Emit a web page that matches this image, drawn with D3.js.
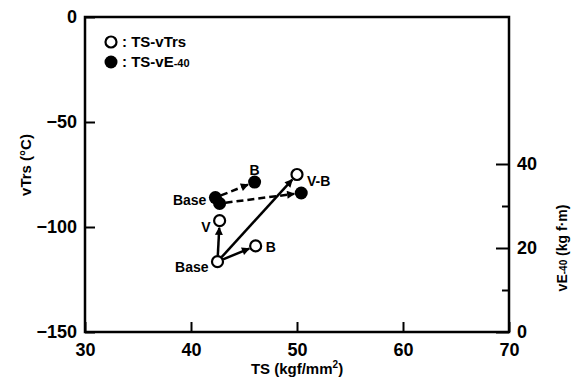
<!DOCTYPE html>
<html><head><meta charset="utf-8">
<script src="https://cdn.jsdelivr.net/npm/d3@7"></script>
<style>
body{margin:0;background:#fff;}
text{font-family:"Liberation Sans",Arial,sans-serif;font-weight:bold;fill:#000;}
</style></head>
<body><svg id="c" width="574" height="385"></svg>
<script>
// ---- data ----
const xTicks = [30, 40, 50, 60, 70];
const yLeftTicks = [0, -50, -100, -150];
const yRightTicks = [0, 20, 40];
const yRightMinor = [10, 30];
// open circles: TS vs vTrs
const trsLabels = ["Base", "V", "B", "V-B"];
const trsTS = [42.5, 42.7, 46.1, 50.0];
const trsVal = [-116.5, -97, -109, -75];
// filled circles: TS vs vE-40
const veLabels = ["Base", "V", "B", "V-B"];
const veTS = [42.3, 42.7, 46.0, 50.4];
const veVal = [32.0, 30.6, 35.7, 33.1];
// arrows (index pairs)
const trsArrows = [[0, 1], [0, 2], [0, 3]];
const veArrows = [[0, 2], [1, 3]];

const svg = d3.select("#c");
const L = 85, R = 509, T = 17, B = 332;
const x = d3.scaleLinear().domain([30, 70]).range([L, R]);
const yL = d3.scaleLinear().domain([-150, 0]).range([B, T]);
const yR = d3.scaleLinear().domain([0, 75]).range([B, T]);

// frame
svg.append("rect").attr("x", L).attr("y", T).attr("width", R - L).attr("height", B - T)
  .attr("fill", "none").attr("stroke", "#000").attr("stroke-width", 2.5);

// bottom axis (ticks inward)
const xa = svg.append("g").attr("transform", `translate(0,${B})`)
  .call(d3.axisBottom(x).tickValues(xTicks).tickSize(-10).tickPadding(11).tickFormat(d3.format("d")));
// left axis
const ya = svg.append("g").attr("transform", `translate(${L},0)`)
  .call(d3.axisLeft(yL).tickValues(yLeftTicks).tickSize(-10).tickPadding(8)
    .tickFormat(d => d < 0 ? "\u2212" + (-d) : d));
// right axis
const ra = svg.append("g").attr("transform", `translate(${R},0)`)
  .call(d3.axisRight(yR).tickValues(yRightTicks).tickSize(-13).tickPadding(22));
const rm = svg.append("g").attr("transform", `translate(${R},0)`)
  .call(d3.axisRight(yR).tickValues(yRightMinor).tickSize(-7).tickFormat(""));
[xa, ya, ra, rm].forEach(g => {
  g.select(".domain").remove();
  g.selectAll(".tick line").attr("stroke", "#000").attr("stroke-width", 2);
  g.selectAll(".tick text").attr("font-size", 18).attr("font-family", "Liberation Sans, Arial, sans-serif")
    .attr("font-weight", "bold").attr("fill", "#000");
});
ra.selectAll(".tick text").attr("x", 8).attr("text-anchor", "start");
ya.selectAll(".tick text").attr("x", -8);

// axis titles
const xt = svg.append("text").attr("x", (L + R) / 2).attr("y", 374).attr("text-anchor", "middle")
  .attr("font-size", 15);
xt.append("tspan").text("TS (kgf/mm");
xt.append("tspan").attr("font-size", 10).attr("dy", -6).text("2");
xt.append("tspan").attr("dy", 6).text(")");
svg.append("text").attr("transform", "translate(31,165) rotate(-90)").attr("text-anchor", "middle")
  .attr("font-size", 15).text("vTrs (\u00B0C)");
const rt = svg.append("text").attr("transform", "translate(567,248) rotate(-90)").attr("text-anchor", "middle")
  .attr("font-size", 14);
rt.append("tspan").text("vE");
rt.append("tspan").attr("font-size", 10).text("-40");
rt.append("tspan").text(" (kg f\u00B7m)");

// arrow marker
const defs = svg.append("defs");
defs.append("marker").attr("id", "ah").attr("viewBox", "0 0 10 10").attr("refX", 9).attr("refY", 5)
  .attr("markerWidth", 9).attr("markerHeight", 8).attr("markerUnits", "userSpaceOnUse")
  .attr("orient", "auto").append("path").attr("d", "M0,0 L10,5 L0,10 Z").attr("fill", "#000");

function arrow(x1, y1, x2, y2, dashed) {
  const dx = x2 - x1, dy = y2 - y1, len = Math.hypot(dx, dy);
  const s = 6 / len, e = 7 / len;
  svg.append("line")
    .attr("x1", x1 + dx * s).attr("y1", y1 + dy * s)
    .attr("x2", x2 - dx * e).attr("y2", y2 - dy * e)
    .attr("stroke", "#000").attr("stroke-width", 2.5)
    .attr("stroke-dasharray", dashed ? "7,4" : null)
    .attr("marker-end", "url(#ah)");
}
trsArrows.forEach(([a, b]) => arrow(x(trsTS[a]), yL(trsVal[a]), x(trsTS[b]), yL(trsVal[b]), false));
veArrows.forEach(([a, b]) => arrow(x(veTS[a]), yR(veVal[a]), x(veTS[b]), yR(veVal[b]), true));

// points
svg.selectAll(".o").data(trsTS).join("circle").attr("cx", d => x(d)).attr("cy", (d, i) => yL(trsVal[i]))
  .attr("r", 5.5).attr("fill", "#fff").attr("stroke", "#000").attr("stroke-width", 2.2);
svg.selectAll(".f").data(veTS).join("circle").attr("cx", d => x(d)).attr("cy", (d, i) => yR(veVal[i]))
  .attr("r", 6.5).attr("fill", "#000");

// point labels
const trsOff = [[-9, 5, "end"], [-9, 6, "end"], [10, 1, "start"], [10, 7, "start"]];
const veOff = [[-9, 2, "end"], null, [0, -12, "middle"], null];
trsLabels.forEach((t, i) => {
  const o = trsOff[i];
  svg.append("text").attr("x", x(trsTS[i]) + o[0]).attr("y", yL(trsVal[i]) + o[1]).attr("dy", "0.35em")
    .attr("text-anchor", o[2]).attr("font-size", 14).text(t);
});
veLabels.forEach((t, i) => {
  const o = veOff[i];
  if (!o) return;
  svg.append("text").attr("x", x(veTS[i]) + o[0]).attr("y", yR(veVal[i]) + o[1]).attr("dy", "0.35em")
    .attr("text-anchor", o[2]).attr("font-size", 14).text(t);
});

// legend
svg.append("circle").attr("cx", 111).attr("cy", 42).attr("r", 5.5).attr("fill", "#fff")
  .attr("stroke", "#000").attr("stroke-width", 2.2);
svg.append("text").attr("x", 122).attr("y", 47).attr("font-size", 15).text(": TS-vTrs");
svg.append("circle").attr("cx", 111).attr("cy", 62).attr("r", 6.5).attr("fill", "#000");
const lt = svg.append("text").attr("x", 122).attr("y", 67).attr("font-size", 15);
lt.append("tspan").text(": TS-vE");
lt.append("tspan").attr("font-size", 11).text("-40");
</script></body></html>
